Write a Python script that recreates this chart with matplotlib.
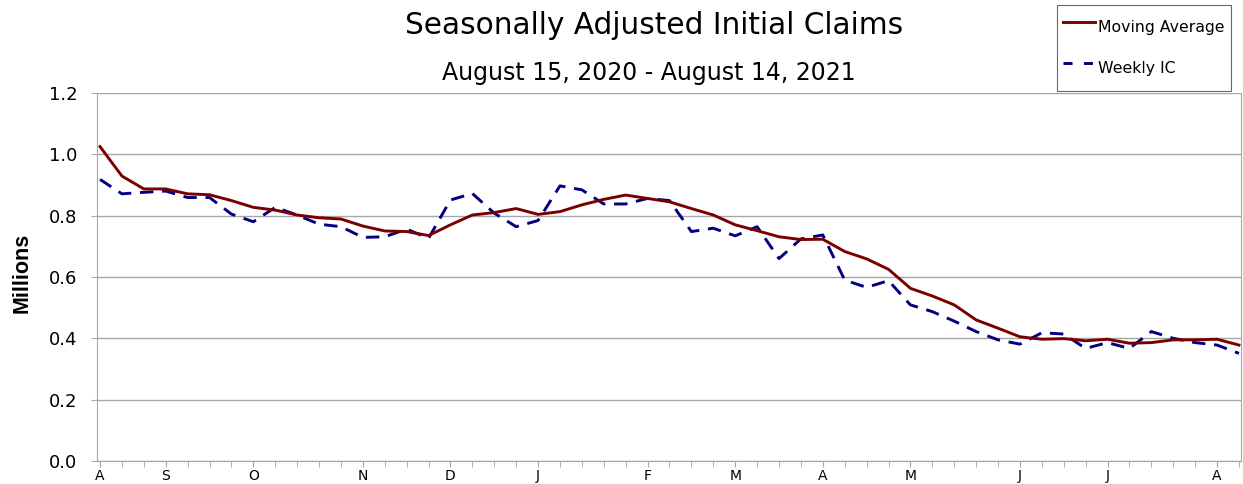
import numpy as np
import matplotlib
matplotlib.use("Agg")
import matplotlib.pyplot as plt
from matplotlib.lines import Line2D

plt.rcParams['font.family'] = ['DejaVu Sans']

# Semanas: 15 ago 2020 - 14 ago 2021 (53 semanas)
semanas = np.arange(53)

media_movil = [1.025, 0.929, 0.887, 0.887, 0.871, 0.868, 0.849, 0.827, 0.818, 0.802,
               0.793, 0.789, 0.766, 0.750, 0.748, 0.735, 0.770, 0.802, 0.810, 0.823,
               0.804, 0.813, 0.835, 0.853, 0.867, 0.856, 0.845, 0.823, 0.802, 0.770,
               0.751, 0.731, 0.722, 0.723, 0.683, 0.659, 0.625, 0.563, 0.538, 0.509,
               0.460, 0.433, 0.405, 0.397, 0.399, 0.392, 0.397, 0.384, 0.386, 0.395,
               0.395, 0.397, 0.378]

semanal = [0.918, 0.871, 0.876, 0.880, 0.859, 0.859, 0.805, 0.780, 0.827, 0.802,
           0.772, 0.764, 0.729, 0.731, 0.756, 0.726, 0.851, 0.872, 0.808, 0.764,
           0.784, 0.897, 0.884, 0.838, 0.838, 0.856, 0.849, 0.748, 0.759, 0.734,
           0.764, 0.660, 0.724, 0.737, 0.590, 0.566, 0.588, 0.509, 0.487, 0.456,
           0.422, 0.395, 0.381, 0.418, 0.414, 0.367, 0.386, 0.367, 0.422, 0.400,
           0.386, 0.378, 0.351]

meses_pos = [0, 3, 7, 12, 16, 20, 25, 29, 33, 37, 42, 46, 51]
meses_etiq = ['A', 'S', 'O', 'N', 'D', 'J', 'F', 'M', 'A', 'M', 'J', 'J', 'A']

rojo = '#7a0000'
azul = '#000080'

fig = plt.figure(figsize=(12.43, 4.84), dpi=100)
ax = fig.add_axes([0.078, 0.0475, 0.9205, 0.7605])

ax.plot(semanas, media_movil, color=rojo, lw=2.1, zorder=3)
ax.plot(semanas, semanal, color=azul, lw=2.1, dashes=(4.6, 3.0), zorder=2)

ax.set_xlim(-0.14, 52.1)
ax.set_ylim(0, 1.2)
ax.set_yticks(np.arange(0, 1.21, 0.2))
ax.set_yticklabels([f'{v:.1f}' for v in np.arange(0, 1.21, 0.2)], fontsize=13)
ax.yaxis.grid(True, color='#a6a6a6', lw=1)
ax.set_axisbelow(True)

ax.set_xticks(meses_pos)
ax.set_xticklabels(meses_etiq, fontsize=10)
ax.set_xticks(semanas, minor=True)
ax.tick_params(axis='x', which='both', length=4, color='#a6a6a6', pad=2)
ax.tick_params(axis='y', length=4, color='#a6a6a6', pad=10)

for lado in ['left', 'bottom', 'right']:
    ax.spines[lado].set_color('#a6a6a6')
ax.spines['top'].set_visible(False)

ax.set_ylabel('Millions', fontsize=15.5, fontweight='bold',
              family=['Liberation Sans', 'DejaVu Sans'])
ax.yaxis.set_label_coords(-0.056, 0.51)

fig.text(0.526, 0.948, 'Seasonally Adjusted Initial Claims', fontsize=21.3,
         ha='center', va='center')
fig.text(0.522, 0.849, 'August 15, 2020 - August 14, 2021', fontsize=17,
         ha='center', va='center')

manijas = [Line2D([], [], color=rojo, lw=2.1),
           Line2D([], [], color=azul, lw=2.1, dashes=(3.1, 3.9))]
leg = fig.legend(manijas, ['Moving Average', 'Weekly IC'], loc='upper left',
                 bbox_to_anchor=(1057 / 1243, 1 - 5 / 484), fontsize=11.3,
                 frameon=True, fancybox=False, edgecolor='#404040',
                 handlelength=2.05, handleheight=2.75, handletextpad=0.15,
                 labelspacing=0.6, borderpad=0.4, borderaxespad=0)
leg.get_frame().set_linewidth(0.8)

fig.savefig('out.png', dpi=100)
